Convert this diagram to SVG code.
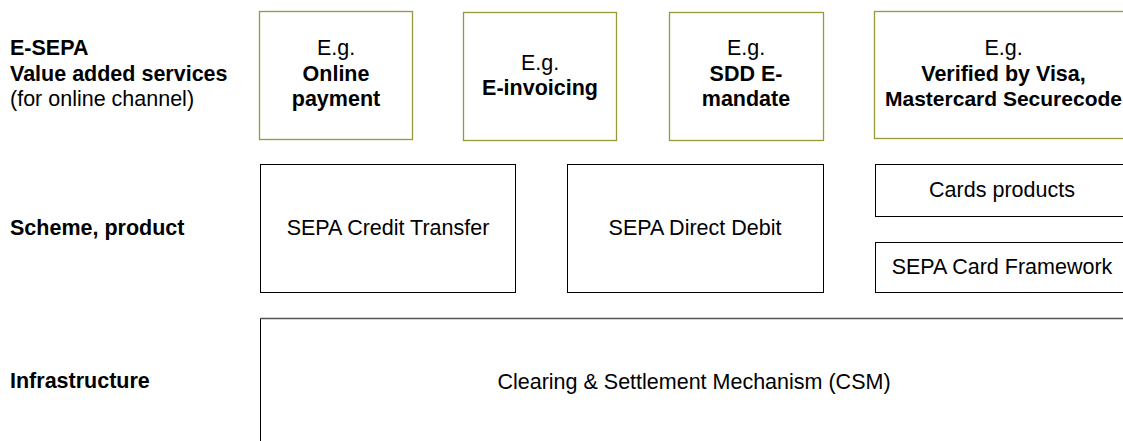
<svg xmlns="http://www.w3.org/2000/svg" width="1123" height="441" viewBox="0 0 1123 441">
  <style>
    text { font-family: "Liberation Sans", Arial, sans-serif; font-size: 21.5px; fill: #000; }
    .b { font-weight: bold; }
    .c { text-anchor: middle; }
    .vas { fill: #fff; stroke: #99993a; stroke-width: 1.3; }
    .box { fill: #fff; stroke: #000; stroke-width: 1; }
  </style>
  <rect width="1123" height="441" fill="#fff"/>

  <!-- row labels -->
  <g id="labels">
    <text x="10" y="55" class="b">E-SEPA</text>
    <text x="10" y="81" class="b">Value added services</text>
    <text x="10" y="106">(for online channel)</text>
    <text x="10" y="235" class="b">Scheme, product</text>
    <text x="10" y="388" class="b">Infrastructure</text>
  </g>

  <!-- value added services -->
  <g id="online-payment">
    <rect x="259.5" y="11.5" width="153" height="128" class="vas"/>
    <text x="336" y="55" class="c">E.g.</text>
    <text x="336" y="81" class="c b">Online</text>
    <text x="336" y="106" class="c b">payment</text>
  </g>
  <g id="e-invoicing">
    <rect x="463.5" y="12.5" width="153" height="128" class="vas"/>
    <text x="540" y="70" class="c">E.g.</text>
    <text x="540" y="95" class="c b">E-invoicing</text>
  </g>
  <g id="sdd-e-mandate">
    <rect x="669.5" y="12.5" width="154" height="128" class="vas"/>
    <text x="746" y="55" class="c">E.g.</text>
    <text x="746" y="81" class="c b">SDD E-</text>
    <text x="746" y="106" class="c b">mandate</text>
  </g>
  <g id="verified-by-visa">
    <rect x="874.5" y="11.5" width="260" height="127" class="vas"/>
    <text x="1003.5" y="55" class="c">E.g.</text>
    <text x="1003.5" y="81" class="c b">Verified by Visa,</text>
    <text x="1003.5" y="106" class="c b" style="font-size:21px">Mastercard Securecode</text>
  </g>

  <!-- schemes and products -->
  <g id="sct">
    <rect x="260.5" y="164.5" width="255" height="128" class="box"/>
    <text x="388" y="235" class="c">SEPA Credit Transfer</text>
  </g>
  <g id="sdd">
    <rect x="567.5" y="164.5" width="256" height="128" class="box"/>
    <text x="695" y="235" class="c">SEPA Direct Debit</text>
  </g>
  <g id="cards-products">
    <rect x="875.5" y="164.5" width="260" height="52" class="box"/>
    <text x="1002" y="197" class="c">Cards products</text>
  </g>
  <g id="scf">
    <rect x="875.5" y="242.5" width="260" height="50" class="box"/>
    <text x="1002" y="274" class="c">SEPA Card Framework</text>
  </g>

  <!-- infrastructure -->
  <g id="csm">
    <rect x="260.5" y="318.5" width="880" height="140" class="box"/>
    <line x1="260" y1="318.5" x2="1123" y2="318.5" stroke="#555" stroke-width="1.5"/>
    <text x="694" y="389" class="c">Clearing &amp; Settlement Mechanism (CSM)</text>
  </g>

  <g id="connectors"/>
</svg>
